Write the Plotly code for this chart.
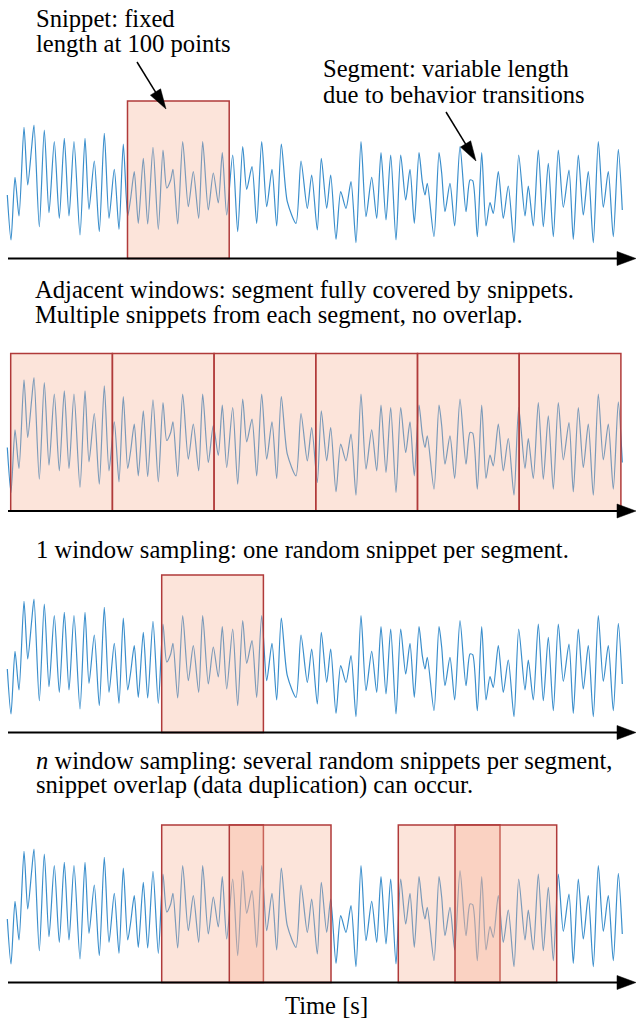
import plotly.graph_objects as go

# ---------------- data ----------------
# time in samples, amplitude in arbitrary units
t_signal = [0.3, 4, 8, 12, 17, 20.7, 24.7, 27, 32.3, 37.3,
            42, 47.3, 52.3, 57.3, 62, 67, 73, 78, 82, 87.3,
            92.3, 97.3, 102, 107.3, 112, 116.3, 120.7, 123.7, 127.3, 131.3,
            136.3, 140.7, 146, 151.3, 156, 159.7, 163.7, 166, 170.7, 175.7,
            181.3, 186.3, 191.7, 195.7, 201.3, 206.3, 211.3, 215.3, 219.7, 225.7,
            230.7, 235.7, 239.7, 245, 249.7, 254.7, 259.7, 265, 269.7, 274.3,
            280.3, 289, 294, 300.3, 304.7, 310.3, 314.3, 319.7, 323.7, 329,
            333.7, 339, 344, 349, 354, 359, 364.7, 369.7, 374, 379,
            383.7, 389, 393.7, 398.7, 403, 407.3, 412, 415.3, 418, 420.3,
            427, 432, 434.7, 438, 443, 447.7, 453, 459, 463, 465.7,
            470.3, 474.7, 479, 483, 486.3, 491.3, 496.3, 501.3, 507, 511.7,
            518, 521.3, 526.3, 531.3, 536.3, 541.3, 546.3, 551.3, 556.3, 562,
            566.3, 571.3, 576.3, 581.3, 586.3, 591.3, 596.3, 601.3, 606.3, 611.3,
            615.3]
amp_signal = [-10, -55, 7.7, -31, 57.7, 0, 38.3, 60, -41.7, 55,
              -27.7, 43.3, -33.3, 46.7, -31, 43.3, -50, 46.7, -24.3, 24,
              -46.7, 51.7, -33.3, 15.7, -44.3, 41, -31, -13, 13.3, -38.3,
              26.7, -39, 37.7, -44.3, 35, -3, 5, 15.7, -39, 43.3,
              -21.7, 13.3, -33.3, 43.3, -25, 12, -18, 32.3, -30, 30,
              -46.7, 38.3, -4.3, 18.3, -38.3, 43.3, -21.7, 15.7, -41, 41,
              -16.7, -38.3, 24, -23.3, 10, -45, 26.7, -23.3, 10, -54.3,
              -6.7, -23.3, 3.3, -57.7, 43.3, -31.7, 7.7, -33.3, 32.3, -35,
              30, -55, 30, -15, 15.7, -38.3, 32.3, 3.3, -10, 1.7,
              -51.7, 32.3, 11.7, -26.7, 1.7, -41, 38.3, -26.7, 5, 4.3,
              -51.7, 32.3, -41, -17.7, -28.3, 13.3, -33.3, -1, -57.7, 30,
              -31, -1, -41, 35, -41.7, 21.7, -51.7, 35, -22.3, 15,
              -54.3, 30, -30, 13.3, -57.7, 43.3, -22.3, 13.3, -51.7, 35.7,
              -25]

snippet_len = 101.7
snippets_p1 = [120.5]                                   # single example snippet
snippets_p2 = [3.7, 105.4, 207.1, 308.8, 410.5, 512.2]  # adjacent windows
snippets_p3 = [154.7]                                   # 1 window sampling
snippets_p4 = [154.7, 222.3, 391.3, 448.0]              # n window sampling

texts_p1 = ["Snippet: fixed", "length at 100 points"]
texts_seg = ["Segment: variable length", "due to behavior transitions"]
texts_p2 = ["Adjacent windows: segment fully covered by snippets.",
            "Multiple snippets from each segment, no overlap."]
texts_p3 = ["1 window sampling: one random snippet per segment."]
texts_p4 = ["<i>n</i> window sampling: several random snippets per segment,",
            "snippet overlap (data duplication) can occur."]
x_label = "Time [s]"

# ---------------- layout geometry ----------------
W, H = 636, 1020
FONT = "Liberation Serif"
FS = 24.6
SIG_COLOR = "rgb(58,142,204)"
BOX_FILL = "rgba(246,178,149,0.35)"
BOX_LINE = "rgb(176,58,58)"

def px_x(x):
    return x / W

def px_y(y):
    return 1 - y / H

zero_px = [185, 437.5, 659, 909]   # pixel row of amplitude 0 in each panel
Y_LO, Y_HI = -80, 90
AXIS_A = -73.5                      # time axis level (amplitude units)
BOX_TOP_A = 84

fig = go.Figure()
panels = [snippets_p1, snippets_p2, snippets_p3, snippets_p4]
shapes = []
annotations = []

for k, (z, snips) in enumerate(zip(zero_px, panels), start=1):
    yname = "y" if k == 1 else f"y{k}"
    fig.add_trace(go.Scatter(
        x=t_signal, y=amp_signal, xaxis="x", yaxis=yname, mode="lines",
        line=dict(color=SIG_COLOR, width=1.2, shape="spline", smoothing=0.7),
        hoverinfo="skip", showlegend=False))
    fig.layout[f"yaxis{'' if k == 1 else k}"] = dict(
        domain=[px_y(z - Y_LO), px_y(z - Y_HI)], range=[Y_LO, Y_HI],
        visible=False, anchor="x", fixedrange=True)
    for s in snips:
        shapes.append(dict(type="rect", xref="x", yref=yname,
                           x0=s, x1=s + snippet_len, y0=AXIS_A, y1=BOX_TOP_A,
                           fillcolor=BOX_FILL, line=dict(color=BOX_LINE, width=1.5),
                           layer="above"))

def arrow(x0, y0, x1, y1, head_len, head_w, lw):
    """line plus filled triangle head, pixel coordinates"""
    dx, dy = x1 - x0, y1 - y0
    L = (dx * dx + dy * dy) ** 0.5
    ux, uy = dx / L, dy / L
    bx, by = x1 - ux * head_len, y1 - uy * head_len
    nx, ny = -uy, ux
    shapes.append(dict(type="line", xref="paper", yref="paper",
                       x0=px_x(x0), y0=px_y(y0), x1=px_x(bx + ux), y1=px_y(by + uy),
                       line=dict(color="black", width=lw), layer="above"))
    p1 = (bx + nx * head_w / 2, by + ny * head_w / 2)
    p2 = (bx - nx * head_w / 2, by - ny * head_w / 2)
    path = (f"M{px_x(x1)},{px_y(y1)} L{px_x(p1[0])},{px_y(p1[1])} "
            f"L{px_x(p2[0])},{px_y(p2[1])} Z")
    shapes.append(dict(type="path", xref="paper", yref="paper", path=path,
                       fillcolor="black", line=dict(color="black", width=0.5),
                       layer="above"))

# time axes with arrowheads
for z in zero_px:
    ya = z - AXIS_A
    arrow(8, ya, 636, ya, 19, 14, 2)

# pointer arrows
arrow(137, 62, 166, 109, 20, 12, 1.5)
arrow(446, 112, 476, 161, 20, 12, 1.5)

def text_line(txt, x, baseline, anchor="left"):
    annotations.append(dict(text=txt, x=px_x(x), y=px_y(baseline - 8.3),
                            xref="paper", yref="paper", xanchor=anchor,
                            yanchor="middle", showarrow=False,
                            font=dict(family=FONT, size=FS, color="black")))

for txt, b in zip(texts_p1, [26.7, 51.7]):
    text_line(txt, 34, b)
for txt, b in zip(texts_seg, [77.3, 102.7]):
    text_line(txt, 320.5, b)
for txt, b in zip(texts_p2, [297.3, 322.7]):
    text_line(txt, 33, b)
for txt, b in zip(texts_p3, [557.3]):
    text_line(txt, 34, b)
for txt, b in zip(texts_p4, [768.3, 793.3]):
    text_line(txt, 34, b)
text_line(x_label, 326, 1013.3, anchor="center")

fig.update_layout(
    width=W, height=H,
    margin=dict(l=0, r=0, t=0, b=0, pad=0),
    paper_bgcolor="white", plot_bgcolor="rgba(0,0,0,0)",
    xaxis=dict(range=[-7, W - 7], visible=False, fixedrange=True,
               domain=[0, 1], anchor="y"),
    shapes=shapes, annotations=annotations, showlegend=False,
)

fig.write_html("out.html", config={"displayModeBar": False},
               post_script="document.body.style.margin='0px';"
                           "document.body.style.overflow='hidden';")
